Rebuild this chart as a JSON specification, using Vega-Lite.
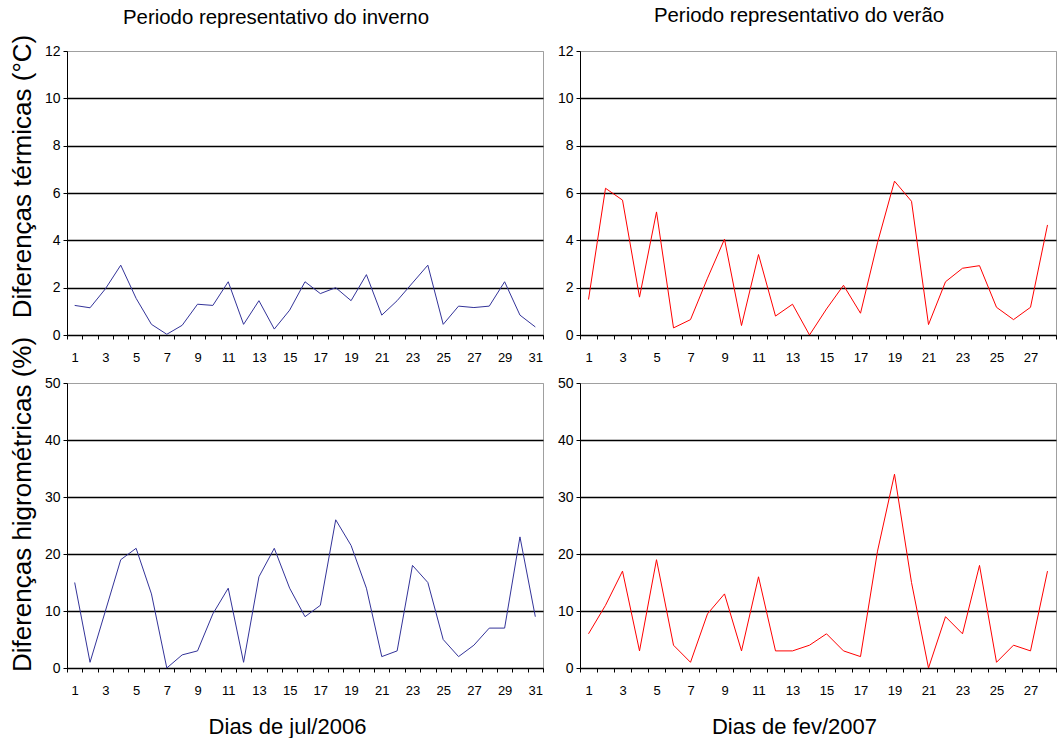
{
  "$schema": "https://vega.github.io/schema/vega-lite/v6.json",
  "background": "white",
  "padding": {"left": 8, "top": 5, "right": 0, "bottom": 0},
  "config": {
    "font": "Liberation Sans",
    "view": {"stroke": "#a0a0a0", "strokeWidth": 1},
    "axis": {
      "labelFont": "Liberation Sans",
      "labelFontSize": 13,
      "labelColor": "#000",
      "titleFont": "Liberation Sans",
      "titleFontWeight": "normal",
      "titleColor": "#000",
      "domainColor": "#000",
      "tickColor": "#000",
      "tickSize": 4,
      "gridWidth": 1.4
    },
    "axisY": {"labelFontSize": 14},
    "title": {"font": "Liberation Sans", "fontSize": 20.4, "fontWeight": "normal", "color": "#000"}
  },
  "datasets": {
    "winterT": [
      {"day": 1, "value": 1.25}, {"day": 2, "value": 1.15}, {"day": 3, "value": 1.95}, {"day": 4, "value": 2.95},
      {"day": 5, "value": 1.55}, {"day": 6, "value": 0.45}, {"day": 7, "value": 0.03}, {"day": 8, "value": 0.41},
      {"day": 9, "value": 1.3}, {"day": 10, "value": 1.25}, {"day": 11, "value": 2.25}, {"day": 12, "value": 0.45},
      {"day": 13, "value": 1.45}, {"day": 14, "value": 0.25}, {"day": 15, "value": 1.05}, {"day": 16, "value": 2.25},
      {"day": 17, "value": 1.75}, {"day": 18, "value": 2.0}, {"day": 19, "value": 1.45}, {"day": 20, "value": 2.55},
      {"day": 21, "value": 0.84}, {"day": 22, "value": 1.45}, {"day": 23, "value": 2.2}, {"day": 24, "value": 2.95},
      {"day": 25, "value": 0.45}, {"day": 26, "value": 1.22}, {"day": 27, "value": 1.16}, {"day": 28, "value": 1.22},
      {"day": 29, "value": 2.25}, {"day": 30, "value": 0.84}, {"day": 31, "value": 0.34}
    ],
    "summerT": [
      {"day": 1, "value": 1.5}, {"day": 2, "value": 6.2}, {"day": 3, "value": 5.7}, {"day": 4, "value": 1.6},
      {"day": 5, "value": 5.2}, {"day": 6, "value": 0.3}, {"day": 7, "value": 0.65}, {"day": 8, "value": 2.4},
      {"day": 9, "value": 4.05}, {"day": 10, "value": 0.4}, {"day": 11, "value": 3.4}, {"day": 12, "value": 0.8},
      {"day": 13, "value": 1.3}, {"day": 14, "value": 0.0}, {"day": 15, "value": 1.1}, {"day": 16, "value": 2.1},
      {"day": 17, "value": 0.92}, {"day": 18, "value": 3.9}, {"day": 19, "value": 6.5}, {"day": 20, "value": 5.65},
      {"day": 21, "value": 0.44}, {"day": 22, "value": 2.25}, {"day": 23, "value": 2.82}, {"day": 24, "value": 2.93},
      {"day": 25, "value": 1.17}, {"day": 26, "value": 0.65}, {"day": 27, "value": 1.17}, {"day": 28, "value": 4.65}
    ],
    "winterH": [
      {"day": 1, "value": 15}, {"day": 2, "value": 1}, {"day": 3, "value": 10}, {"day": 4, "value": 19},
      {"day": 5, "value": 21}, {"day": 6, "value": 13}, {"day": 7, "value": 0}, {"day": 8, "value": 2.3},
      {"day": 9, "value": 3}, {"day": 10, "value": 9.5}, {"day": 11, "value": 14}, {"day": 12, "value": 1},
      {"day": 13, "value": 16}, {"day": 14, "value": 21}, {"day": 15, "value": 14}, {"day": 16, "value": 9},
      {"day": 17, "value": 11}, {"day": 18, "value": 26}, {"day": 19, "value": 21.5}, {"day": 20, "value": 14},
      {"day": 21, "value": 2}, {"day": 22, "value": 3}, {"day": 23, "value": 18}, {"day": 24, "value": 15},
      {"day": 25, "value": 5}, {"day": 26, "value": 2}, {"day": 27, "value": 4}, {"day": 28, "value": 7},
      {"day": 29, "value": 7}, {"day": 30, "value": 23}, {"day": 31, "value": 9}
    ],
    "summerH": [
      {"day": 1, "value": 6}, {"day": 2, "value": 11}, {"day": 3, "value": 17}, {"day": 4, "value": 3},
      {"day": 5, "value": 19}, {"day": 6, "value": 4}, {"day": 7, "value": 1}, {"day": 8, "value": 9.5},
      {"day": 9, "value": 13}, {"day": 10, "value": 3}, {"day": 11, "value": 16}, {"day": 12, "value": 3},
      {"day": 13, "value": 3}, {"day": 14, "value": 4}, {"day": 15, "value": 6}, {"day": 16, "value": 3},
      {"day": 17, "value": 2}, {"day": 18, "value": 20.5}, {"day": 19, "value": 34}, {"day": 20, "value": 15},
      {"day": 21, "value": 0}, {"day": 22, "value": 9}, {"day": 23, "value": 6}, {"day": 24, "value": 18},
      {"day": 25, "value": 1}, {"day": 26, "value": 4}, {"day": 27, "value": 3}, {"day": 28, "value": 17}
    ]
  },
  "bounds": "flush",
  "columns": 2,
  "spacing": {"row": 48, "column": 37},
  "concat": [
    {
      "title": {"text": "Periodo representativo do inverno", "offset": 6, "dx": -29},
      "width": 476, "height": 284,
      "data": {"name": "winterT"},
      "mark": {"type": "line", "color": "#333399", "strokeWidth": 1},
      "encoding": {
        "x": {"field": "day", "type": "ordinal", "scale": {"type": "band", "paddingInner": 0, "paddingOuter": 0},
          "axis": {"title": null, "tickBand": "extent", "labelAngle": 0, "labelPadding": 12, "labelExpr": "datum.value % 2 == 1 ? datum.label : ''"}},
        "y": {"field": "value", "type": "quantitative", "scale": {"domain": [0, 12], "nice": false},
          "axis": {"values": [0, 2, 4, 6, 8, 10, 12], "grid": true,
            "gridColor": {"condition": {"test": "datum.value == 12", "value": "#a0a0a0"}, "value": "#000"},
            "gridWidth": {"condition": {"test": "datum.value == 12", "value": 1}, "value": 1.4},
            "labelPadding": 3, "title": "Diferenças térmicas (°C)", "titleFontSize": 26,
            "titleAngle": 270, "titleAlign": "center", "titleBaseline": "alphabetic", "titleX": -37, "titleY": 125}}
      }
    },
    {
      "title": {"text": "Periodo representativo do verão", "offset": 17.5, "dx": -19},
      "width": 476, "height": 284,
      "data": {"name": "summerT"},
      "mark": {"type": "line", "color": "#ff0000", "strokeWidth": 1},
      "encoding": {
        "x": {"field": "day", "type": "ordinal", "scale": {"type": "band", "paddingInner": 0, "paddingOuter": 0},
          "axis": {"title": null, "tickBand": "extent", "labelAngle": 0, "labelPadding": 12, "labelExpr": "datum.value % 2 == 1 ? datum.label : ''"}},
        "y": {"field": "value", "type": "quantitative", "scale": {"domain": [0, 12], "nice": false},
          "axis": {"values": [0, 2, 4, 6, 8, 10, 12], "grid": true,
            "gridColor": {"condition": {"test": "datum.value == 12", "value": "#a0a0a0"}, "value": "#000"},
            "gridWidth": {"condition": {"test": "datum.value == 12", "value": 1}, "value": 1.4},
            "labelPadding": 3, "title": null}}
      }
    },
    {
      "width": 476, "height": 285,
      "data": {"name": "winterH"},
      "mark": {"type": "line", "color": "#333399", "strokeWidth": 1},
      "encoding": {
        "x": {"field": "day", "type": "ordinal", "scale": {"type": "band", "paddingInner": 0, "paddingOuter": 0},
          "axis": {"title": "Dias de jul/2006", "titleFontSize": 22, "titleX": 220, "titleY": 65, "titleAlign": "center", "titleBaseline": "alphabetic",
            "tickBand": "extent", "labelAngle": 0, "labelPadding": 12, "labelExpr": "datum.value % 2 == 1 ? datum.label : ''"}},
        "y": {"field": "value", "type": "quantitative", "scale": {"domain": [0, 50], "nice": false},
          "axis": {"values": [0, 10, 20, 30, 40, 50], "grid": true,
            "gridColor": {"condition": {"test": "datum.value == 50", "value": "#a0a0a0"}, "value": "#000"},
            "gridWidth": {"condition": {"test": "datum.value == 50", "value": 1}, "value": 1.4},
            "labelPadding": 3, "title": "Diferenças higrométricas (%)", "titleFontSize": 26,
            "titleAngle": 270, "titleAlign": "center", "titleBaseline": "alphabetic", "titleX": -37, "titleY": 121}}
      }
    },
    {
      "width": 476, "height": 285,
      "data": {"name": "summerH"},
      "mark": {"type": "line", "color": "#ff0000", "strokeWidth": 1},
      "encoding": {
        "x": {"field": "day", "type": "ordinal", "scale": {"type": "band", "paddingInner": 0, "paddingOuter": 0},
          "axis": {"title": "Dias de fev/2007", "titleFontSize": 22, "titleX": 214, "titleY": 65, "titleAlign": "center", "titleBaseline": "alphabetic",
            "tickBand": "extent", "labelAngle": 0, "labelPadding": 12, "labelExpr": "datum.value % 2 == 1 ? datum.label : ''"}},
        "y": {"field": "value", "type": "quantitative", "scale": {"domain": [0, 50], "nice": false},
          "axis": {"values": [0, 10, 20, 30, 40, 50], "grid": true,
            "gridColor": {"condition": {"test": "datum.value == 50", "value": "#a0a0a0"}, "value": "#000"},
            "gridWidth": {"condition": {"test": "datum.value == 50", "value": 1}, "value": 1.4},
            "labelPadding": 3, "title": null}}
      }
    }
  ]
}
